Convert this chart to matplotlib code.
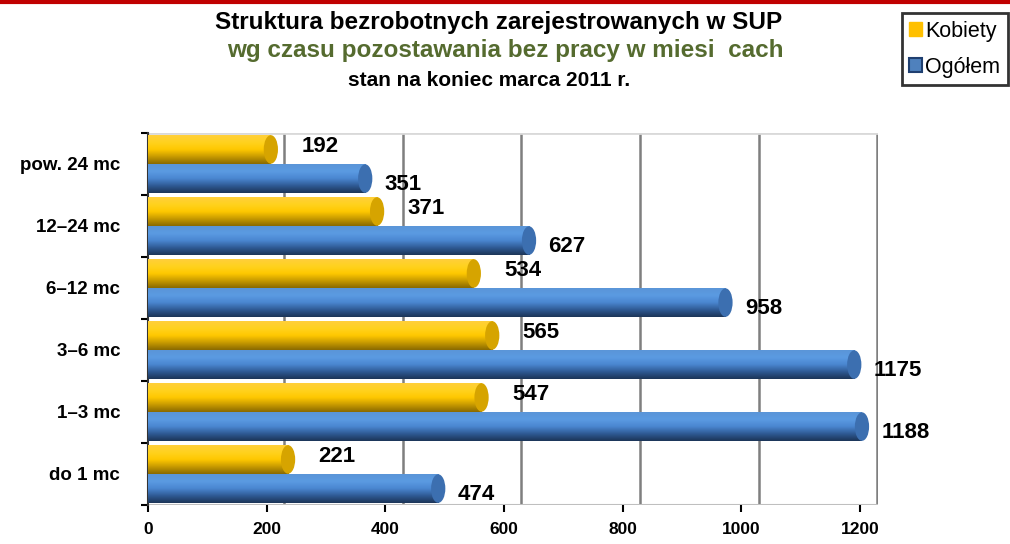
import numpy as np
import matplotlib
matplotlib.use("Agg")
import matplotlib.pyplot as plt
from matplotlib.colors import LinearSegmentedColormap
from matplotlib.patches import Rectangle, Ellipse
from matplotlib.lines import Line2D

plt.rcParams['font.family'] = ['Liberation Sans', 'DejaVu Sans']

categories = ["pow. 24 mc", "12–24 mc", "6–12 mc", "3–6 mc", "1–3 mc", "do 1 mc"]
kobiety = [192, 371, 534, 565, 547, 221]
ogolem = [351, 627, 958, 1175, 1188, 474]
xticks = [0, 200, 400, 600, 800, 1000, 1200]
series_names = ["Kobiety", "Ogółem"]

title1 = "Struktura bezrobotnych zarejestrowanych w SUP"
title2 = "wg czasu pozostawania bez pracy w miesi  cach"
title3 = "stan na koniec marca 2011 r."

# styles
depth = 29        # back-wall offset (data units)
shift = 15        # cylinder mid-depth offset
cap_w = 24        # cap ellipse width (data units)
bar_h = 0.46
yel_cmap = LinearSegmentedColormap.from_list("y", ["#8a6a00", "#c79a00", "#ffc800", "#ffd21e", "#ffcf3a"])
blu_cmap = LinearSegmentedColormap.from_list("b", ["#1c3558", "#2f5a94", "#4a86d0", "#5b9be2", "#5a95d8"])
yel_cap = "#d6a400"
blu_cap = "#3c6fb0"

fig = plt.figure(figsize=(10.10, 5.44), dpi=100)
ax = fig.add_axes([148/1010, 1-505/544, 730/1010, (505-133)/544])

n = len(categories)
ypos = np.arange(n)[::-1].astype(float)
off = 0.235

grad = np.linspace(0, 1, 64).reshape(-1, 1)

def cyl(patches, cmap, capc):
    for p in patches:
        x0 = p.get_x()
        w = p.get_width()
        y0 = p.get_y()
        h = p.get_height()
        p.set_visible(False)
        body = Rectangle((x0, y0), w + shift, h, transform=ax.transData, facecolor='none', edgecolor='none')
        ax.add_patch(body)
        im = ax.imshow(grad, cmap=cmap, origin='lower', aspect='auto',
                       extent=[x0, x0 + w + shift, y0, y0 + h], zorder=3, interpolation='bicubic')
        im.set_clip_path(body)
        ax.add_patch(Ellipse((x0 + w + shift, y0 + h/2), cap_w, h, facecolor=capc,
                             edgecolor='none', zorder=4))

by = ax.barh(ypos + off, kobiety, height=bar_h)
bb = ax.barh(ypos - off, ogolem, height=bar_h)
cyl(by, yel_cmap, yel_cap)
cyl(bb, blu_cmap, blu_cap)

for y, v in zip(ypos, kobiety):
    ax.annotate(f"{v}", (v + shift, y + off), xytext=(22, 2), textcoords='offset points',
                ha='left', va='center', fontsize=16, fontweight='bold', zorder=5)
for y, v in zip(ypos, ogolem):
    ax.annotate(f"{v}", (v + shift, y - off), xytext=(14, -4), textcoords='offset points',
                ha='left', va='center', fontsize=16, fontweight='bold', zorder=5)

# back-wall gridlines
for t in xticks[1:]:
    ax.axvline(t + depth, color='#7f7f7f', lw=1.8, zorder=1)
ax.axhline(n - 0.5, color='#d9d9d9', lw=2, zorder=1)
ax.axhline(-0.5, color='#bfbfbf', lw=1.5, zorder=1)

ax.set_xlim(0, xticks[-1] + depth + 1)
ax.set_ylim(-0.5, n - 0.5)

ax.set_xticks(xticks)
ax.set_xticklabels([str(t) for t in xticks], fontsize=12.5, fontweight='bold')
ax.tick_params(axis='x', length=5, width=1.5, color='black', pad=7)
ax.set_yticks(ypos)
ax.set_yticklabels(categories, fontsize=13.5, fontweight='bold')
ax.tick_params(axis='y', which='major', length=0, pad=20)
ax.set_yticks(np.arange(n + 1) - 0.5, minor=True)
ax.tick_params(axis='y', which='minor', length=5, width=1.5, color='black')

for s in ['top', 'right', 'bottom']:
    ax.spines[s].set_visible(False)
ax.spines['left'].set_linewidth(1.5)
ax.spines['left'].set_color('#333333')

# titles
fig.text(0.494, 1-22/544, title1, ha='center', va='center', fontsize=17.5, fontweight='bold', color='black')
fig.text(0.500, 1-50/544, title2, ha='center', va='center', fontsize=17.5, fontweight='bold', color='#556b2f')
fig.text(0.484, 1-80/544, title3, ha='center', va='center', fontsize=15, fontweight='bold', color='black')

# legend
handles = [Rectangle((0, 0), 1, 1, facecolor='#ffc000', edgecolor='#ffc000'),
           Rectangle((0, 0), 1, 1, facecolor='#4f81bd', edgecolor='#1f3f70', lw=1.5)]
leg = fig.legend(handles, series_names, loc='upper right', bbox_to_anchor=(1008/1010, 1-13/544),
                 fontsize=15.5, frameon=True, fancybox=False, handlelength=0.6, handleheight=0.6,
                 handletextpad=0.15, borderpad=0.35, labelspacing=0.7, borderaxespad=0)
leg.get_frame().set_edgecolor('black')
leg.get_frame().set_linewidth(2)

fig.add_artist(Line2D([0, 1], [1 - 1.5/544, 1 - 1.5/544], color='#c00000', lw=3, transform=fig.transFigure))

fig.savefig("out.png", dpi=100)
